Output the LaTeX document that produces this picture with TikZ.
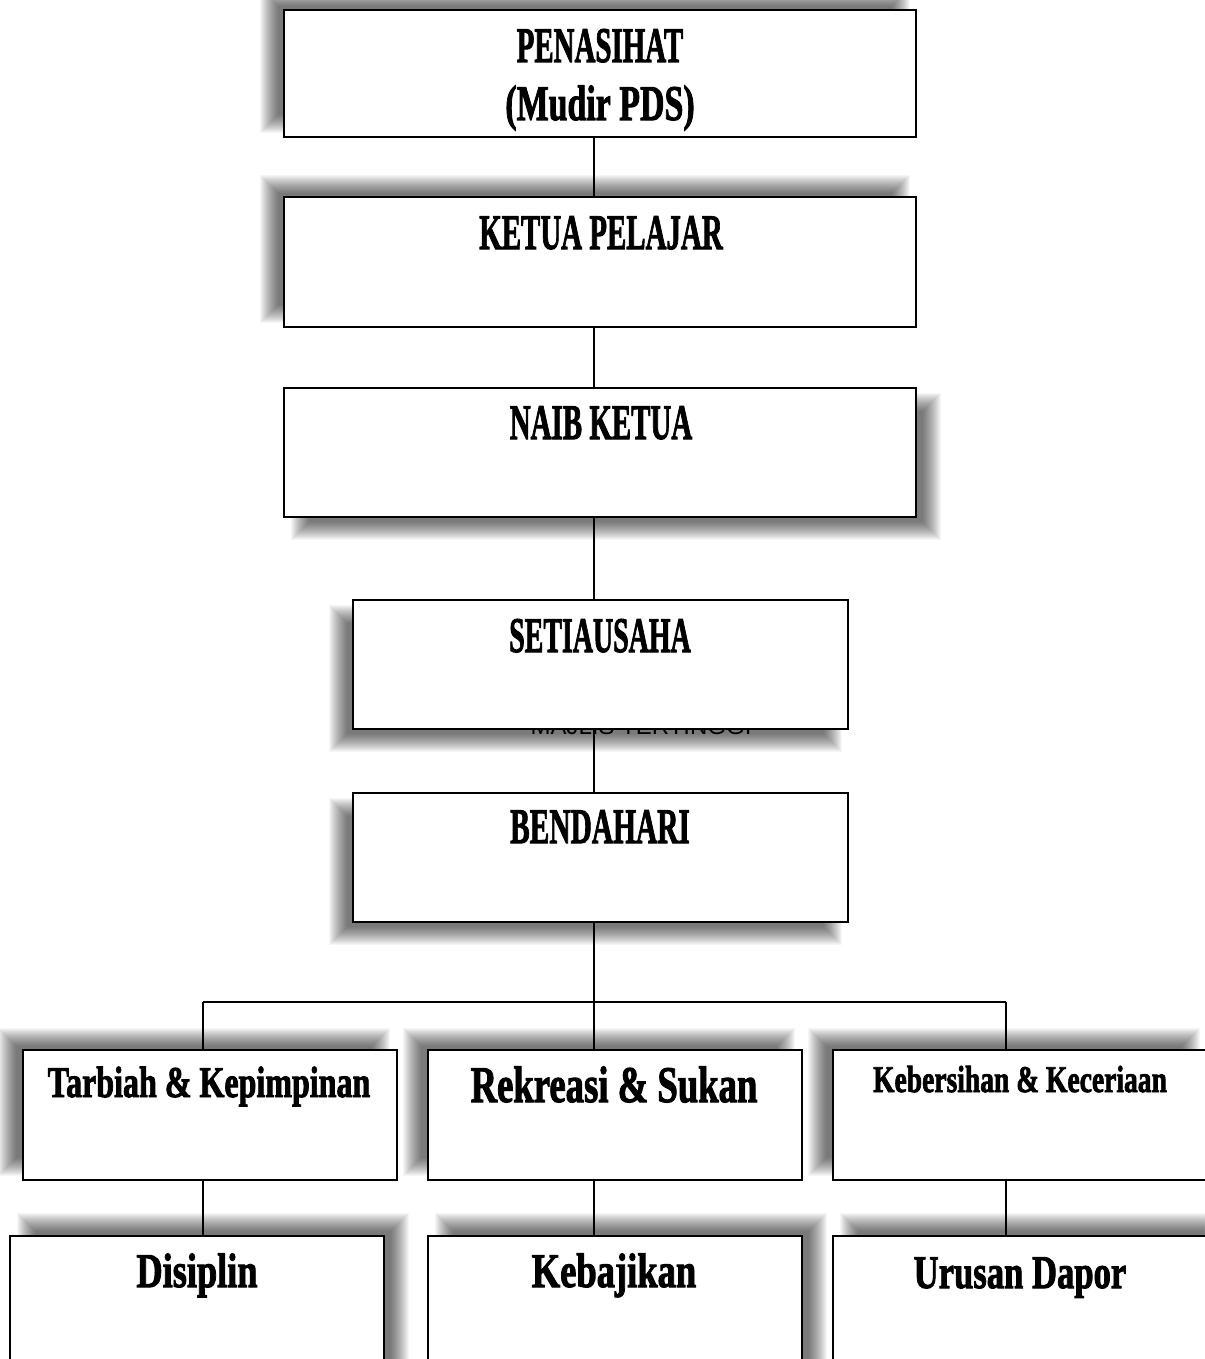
\documentclass[tikz,border=0pt]{standalone}
\usepackage{fontspec}
\usepackage{graphicx}
\setmainfont{Liberation Serif}
\newfontfamily\labfont{Liberation Serif}[BoldFeatures={FakeBold=2.2}]
\newfontfamily\strayfont{Liberation Sans}
\newcommand{\lbl}[3]{\scalebox{#2}[1]{\fontsize{#1}{#1}\labfont\bfseries #3}}
\newcommand{\softshadow}[4]{%
  \foreach \k in {0,...,18}{%
    \fill[black,opacity=0.036] ({#1-9+\k},{#2-9+\k}) rectangle ({#3+9-\k},{#4+9-\k});
  }}
\newcommand{\mkbox}[5]{\node[orgbox, minimum width={(#4-#2)*0.75pt}, minimum height={(#5-#3)*0.75pt}] (#1) at ({(#2+#4)/2},{(#3+#5)/2}) {};}
\tikzset{
  orgbox/.style={draw=black, line width=1.4pt, fill=white, rectangle, inner sep=0pt},
  conn/.style={draw=black, line width=1.1pt},
  lab/.style={inner sep=0pt, anchor=base},
}
\begin{document}
\begin{tikzpicture}[x=0.75pt,y=-0.75pt]
\useasboundingbox (0,0) rectangle (1204,1359);
\fill[white] (0,0) rectangle (1204,1359);
% shadows
\softshadow{269}{-3}{901}{124}
\softshadow{269}{184}{901}{314}
\softshadow{300}{402}{932}{531}
\softshadow{338}{614}{833}{743}
\softshadow{338}{807}{833}{936}
\softshadow{7}{1037}{381}{1167}
\softshadow{412}{1037}{786}{1167}
\softshadow{817}{1037}{1191}{1167}
\softshadow{26}{1222}{400}{1380}
\softshadow{444}{1222}{818}{1380}
\softshadow{849}{1222}{1223}{1380}
% partly hidden text
\node[lab] (stray) at (641,734) {\fontsize{18}{18}\strayfont MAJLIS TERTINGGI};
% boxes
\mkbox{pen}{284}{10}{916}{137}
\mkbox{ket}{284}{197}{916}{327}
\mkbox{naib}{284}{388}{916}{517}
\mkbox{set}{353}{600}{848}{729}
\mkbox{ben}{353}{793}{848}{922}
\mkbox{tar}{23}{1050}{397}{1180}
\mkbox{rek}{428}{1050}{802}{1180}
\mkbox{keb}{833}{1050}{1207}{1180}
\mkbox{dis}{10}{1236}{384}{1380}
\mkbox{kbj}{428}{1236}{802}{1380}
\mkbox{uru}{833}{1236}{1207}{1380}
% connector coordinates
\coordinate (spine) at (594,0);
\coordinate (busL) at (203,1002);
\coordinate (busM) at (594,1002);
\coordinate (busR) at (1006,1002);
% connectors
\draw[conn] (pen.south -| spine) -- (ket.north -| spine);
\draw[conn] (ket.south -| spine) -- (naib.north -| spine);
\draw[conn] (naib.south -| spine) -- (set.north -| spine);
\draw[conn] (set.south -| spine) -- (ben.north -| spine);
\draw[conn] (ben.south -| spine) -- (busM);
\draw[conn] (busL) -- (busR);
\draw[conn] (busL) -- (tar.north -| busL);
\draw[conn] (busM) -- (rek.north -| busM);
\draw[conn] (busR) -- (keb.north -| busR);
\draw[conn] (tar.south -| busL) -- (dis.north -| busL);
\draw[conn] (rek.south -| busM) -- (kbj.north -| busM);
\draw[conn] (keb.south -| busR) -- (uru.north -| busR);
% labels
\node[lab] (penT) at (600,62) {\lbl{37.4}{0.58}{PENASIHAT}};
\node[lab] (penT2) at (600,120) {\lbl{37.4}{0.68}{(Mudir PDS)}};
\node[lab] (ketT) at (601,249) {\lbl{37.4}{0.58}{KETUA PELAJAR}};
\node[lab] (naibT) at (601,439) {\lbl{37.4}{0.58}{NAIB KETUA}};
\node[lab] (setT) at (600,652) {\lbl{37.4}{0.56}{SETIAUSAHA}};
\node[lab] (benT) at (600,843) {\lbl{37.4}{0.59}{BENDAHARI}};
\node[lab] (tarT) at (209,1097) {\lbl{32.9}{0.73}{Tarbiah \& Kepimpinan}};
\node[lab] (rekT) at (614,1102) {\lbl{38.5}{0.715}{Rekreasi \& Sukan}};
\node[lab] (kebT) at (1020,1092) {\lbl{28.3}{0.73}{Kebersihan \& Keceriaan}};
\node[lab] (disT) at (197,1287) {\lbl{36.3}{0.75}{Disiplin}};
\node[lab] (kbjT) at (614,1287) {\lbl{36.3}{0.755}{Kebajikan}};
\node[lab] (uruT) at (1020,1288) {\lbl{35.1}{0.74}{Urusan Dapor}};
\end{tikzpicture}
\end{document}
